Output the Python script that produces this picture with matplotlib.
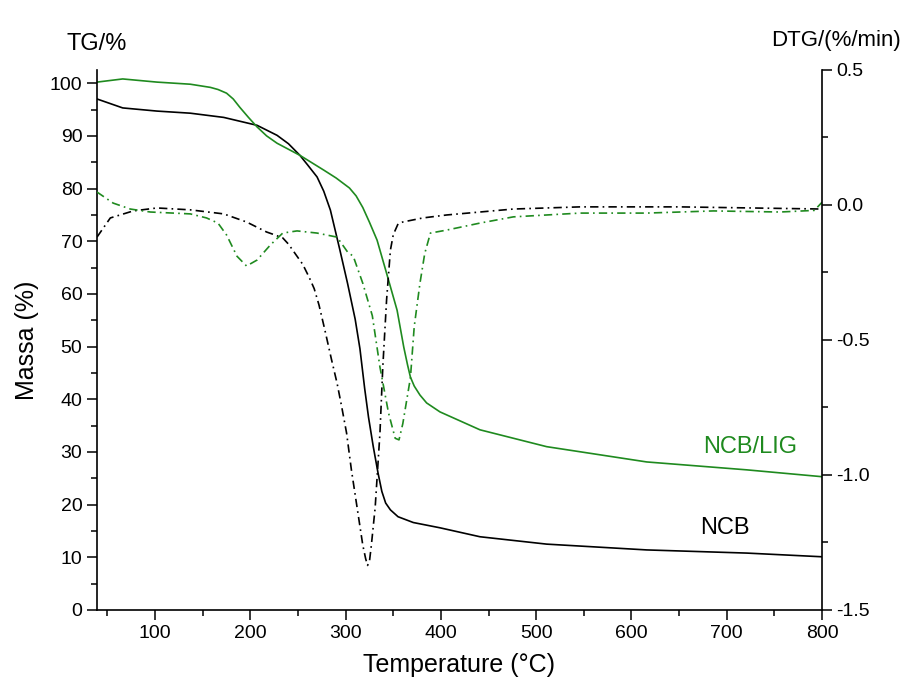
import numpy as np
import matplotlib.pyplot as plt
from matplotlib.ticker import MultipleLocator

plt.rcParams['font.family'] = ['Liberation Sans', 'DejaVu Sans']

GREEN = '#1f8a1f'

# TG of NCB (left axis, %)
t_tg_ncb = [39, 66, 102, 137, 172, 207, 228, 240, 252, 260, 270, 277, 284, 294, 302, 310,
            315, 320, 324, 329, 334, 338, 342, 347, 355, 371, 399, 441, 511, 616, 721, 800]
tg_ncb = [97.0, 95.3, 94.7, 94.3, 93.5, 92.0, 90.1, 88.5, 86.3, 84.5, 82.2, 79.5, 75.9, 68.3,
          62.0, 55.2, 49.6, 42.0, 36.6, 31.0, 26.0, 22.5, 20.3, 19.0, 17.7, 16.6, 15.6, 13.9,
          12.5, 11.4, 10.8, 10.1]

# TG of NCB/LIG (left axis, %)
t_tg_lig = [39, 66, 102, 137, 158, 166, 175, 182, 189, 198, 207, 217, 228, 252, 277, 290,
            304, 311, 318, 325, 333, 343, 354, 361, 365, 368, 372, 378, 385, 399, 441, 511,
            616, 721, 800]
tg_lig = [100.2, 100.8, 100.2, 99.8, 99.2, 98.8, 98.1, 97.0, 95.4, 93.5, 91.7, 90.0, 88.6,
          86.3, 83.5, 82.0, 80.1, 78.6, 76.4, 73.6, 70.2, 63.9, 56.9, 49.9, 46.5, 44.2, 42.5,
          40.8, 39.3, 37.6, 34.2, 31.0, 28.1, 26.6, 25.3]

# DTG of NCB (right axis, %/min)
t_dtg_ncb = [39, 53, 77, 102, 137, 172, 196, 217, 225, 234, 240, 249, 255, 262, 267, 272,
             278, 285, 291, 296, 301, 306, 312, 318, 321, 323, 325, 327, 331, 336, 339, 343,
             347, 350, 355, 360, 381, 406, 476, 546, 651, 800]
dtg_ncb = [-0.119, -0.048, -0.022, -0.011, -0.018, -0.033, -0.063, -0.10, -0.11, -0.122,
           -0.145, -0.19, -0.22, -0.27, -0.31, -0.37, -0.46, -0.57, -0.66, -0.75, -0.845,
           -0.98, -1.12, -1.26, -1.31, -1.335, -1.32, -1.26, -1.12, -0.845, -0.60, -0.35,
           -0.167, -0.11, -0.07, -0.063, -0.048, -0.037, -0.015, -0.007, -0.007, -0.015]

# DTG of NCB/LIG (right axis, %/min)
t_dtg_lig = [39, 56, 74, 95, 137, 154, 166, 175, 186, 196, 207, 221, 234, 249, 270, 291,
             302, 308, 318, 328, 336, 345, 352, 356, 360, 368, 372, 378, 383, 389, 406,
             441, 476, 546, 616, 686, 756, 792, 800]
dtg_lig = [0.048, 0.007, -0.015, -0.026, -0.033, -0.048, -0.067, -0.111, -0.19, -0.226, -0.204,
           -0.148, -0.104, -0.096, -0.104, -0.119, -0.174, -0.19, -0.29, -0.41, -0.6, -0.77,
           -0.864, -0.87, -0.81, -0.64, -0.45, -0.29, -0.18, -0.104, -0.093, -0.067, -0.044,
           -0.03, -0.03, -0.022, -0.026, -0.02, 0.01]

fig = plt.figure(figsize=(9.03, 6.93), dpi=100)
ax = fig.add_axes([0.1074, 0.1198, 0.8029, 0.7792])
ax2 = ax.twinx()

dd = (5, 2.5, 1, 2.5)
ax.plot(t_tg_ncb, tg_ncb, color='black', lw=1.2)
ax.plot(t_tg_lig, tg_lig, color=GREEN, lw=1.2)
ax2.plot(t_dtg_ncb, dtg_ncb, color='black', lw=1.2, dashes=dd)
ax2.plot(t_dtg_lig, dtg_lig, color=GREEN, lw=1.2, dashes=dd)

ax.set_xlim(39, 800)
ax.set_ylim(0, 102.5)
ax2.set_ylim(-1.5, 0.5)

ax.xaxis.set_major_locator(MultipleLocator(100))
ax.xaxis.set_minor_locator(MultipleLocator(50))
ax.yaxis.set_major_locator(MultipleLocator(10))
ax.yaxis.set_minor_locator(MultipleLocator(5))
ax2.yaxis.set_major_locator(MultipleLocator(0.5))
ax2.yaxis.set_minor_locator(MultipleLocator(0.25))
ax2.yaxis.set_major_formatter(plt.FuncFormatter(lambda v, p: f'{v:.1f}'))

for a in (ax, ax2):
    a.spines['top'].set_visible(False)
    for s in a.spines.values():
        s.set_linewidth(1.2)
    a.tick_params(which='major', direction='out', length=7, width=1.1, labelsize=14)
    a.tick_params(which='minor', direction='out', length=4, width=1.1)
ax.spines['right'].set_visible(False)
ax2.spines['left'].set_visible(False)
ax2.spines['bottom'].set_visible(False)

ax.set_xlabel('Temperature (°C)', fontsize=18, labelpad=8)
ax.set_ylabel('Massa (%)', fontsize=18, labelpad=8)

fig.text(0.074, 0.936, 'TG/%', fontsize=17, va='center', ha='left')
fig.text(0.998, 0.941, 'DTG/(%/min)', fontsize=16, va='center', ha='right')

ax.text(675, 30.9, 'NCB/LIG', color=GREEN, fontsize=17, va='center', ha='left')
ax.text(672, 15.6, 'NCB', color='black', fontsize=17, va='center', ha='left')

fig.savefig('out.png', dpi=100)
